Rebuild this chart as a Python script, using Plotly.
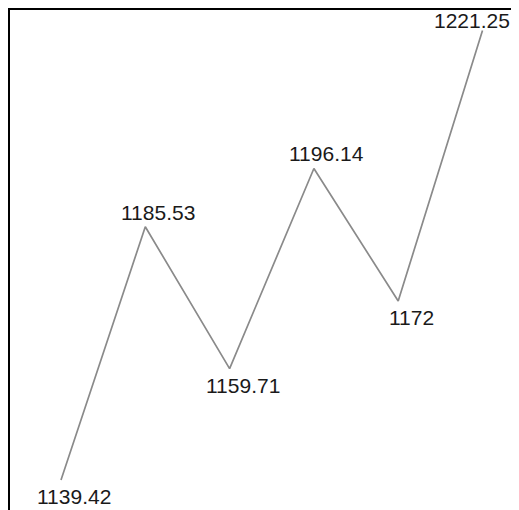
import plotly.graph_objects as go

categories = [0, 1, 2, 3, 4, 5]
values = [1139.42, 1185.53, 1159.71, 1196.14, 1172, 1221.25]
labels = ["1139.42", "1185.53", "1159.71", "1196.14", "1172", "1221.25"]

fig = go.Figure()
fig.add_trace(go.Scatter(
    x=categories, y=values, mode="lines",
    line=dict(color="#8a8a8a", width=1.7),
    hoverinfo="skip", showlegend=False,
))

annotations = []
n = len(values)
for i, (xv, yv, t) in enumerate(zip(categories, values, labels)):
    above = i > 0 and yv > values[i - 1]
    last = i == n - 1
    if last:
        ys = -3
    else:
        ys = 1 if above else -3
    annotations.append(dict(
        x=xv, y=yv, text=t, showarrow=False,
        xanchor="right" if last else "center",
        xshift=29 if last else 13,
        yanchor="bottom" if above else "top",
        yshift=ys,
        font=dict(family="Liberation Sans, Arial, sans-serif", size=21, color="#1a1a1a"),
    ))

fig.update_layout(
    width=511, height=502,
    margin=dict(l=2, r=0, t=2, b=0, pad=0),
    paper_bgcolor="white", plot_bgcolor="white",
    annotations=annotations,
    xaxis=dict(range=[-0.605, 5.433], side="top", showline=True, linecolor="black",
               linewidth=2.5, showgrid=False, zeroline=False, showticklabels=False, ticks=""),
    yaxis=dict(range=[1133.96, 1224.99], showline=True, linecolor="black",
               linewidth=2.5, showgrid=False, zeroline=False, showticklabels=False, ticks=""),
)

fig.write_html("out.html")
